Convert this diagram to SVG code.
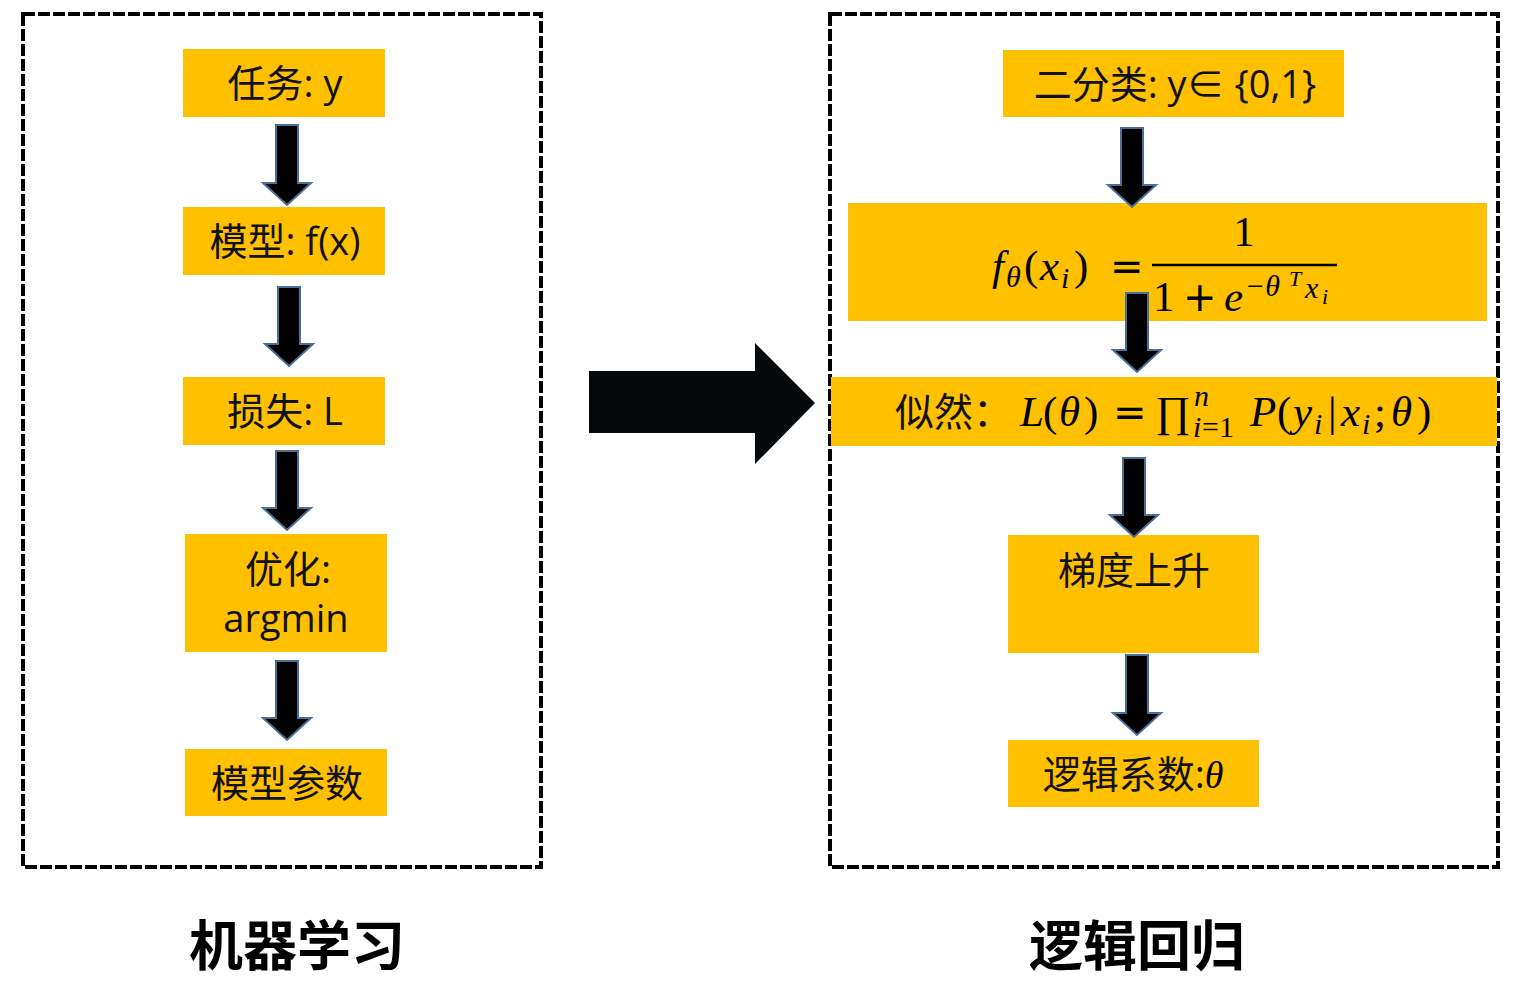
<svg xmlns="http://www.w3.org/2000/svg" width="1515" height="1006" viewBox="0 0 1515 1006">
<style>
.frame{fill:none;stroke:#000;stroke-width:4;stroke-dasharray:12 3}
.box{fill:#FFC000}
.arr{fill:#000;stroke:#4A6F99;stroke-width:2;stroke-linejoin:miter}
.t{font-family:"Open Sans","Noto Sans CJK SC",sans-serif;font-size:38px;fill:#111;text-anchor:middle}
.ts{font-family:"Noto Sans CJK SC",sans-serif;font-size:39px;fill:#111}
.m{font-family:"Liberation Serif","DejaVu Serif",serif;font-style:italic;font-size:43px;fill:#000}
.mu{font-family:"Liberation Serif","DejaVu Serif",serif;font-style:normal;font-size:43px;fill:#000}
.eq{font-family:"DejaVu Sans",sans-serif;font-size:40px;fill:#000}
.s26{font-family:"Liberation Serif",serif;font-style:italic;font-size:30px;fill:#000}
.u26{font-family:"Liberation Serif",serif;font-size:30px;fill:#000}
.s20{font-family:"Liberation Serif",serif;font-style:italic;font-size:22px;fill:#000}
.cap{font-family:"Noto Sans CJK SC",sans-serif;font-weight:bold;font-size:54px;fill:#000;text-anchor:middle}
</style>
<rect width="1515" height="1006" fill="#fff"/>
<g id="frames">
<rect class="frame" x="23" y="14" width="518" height="853"/>
<rect class="frame" x="830" y="14" width="668" height="853"/>
</g>
<g id="n1"><rect class="box" x="183" y="49" width="202" height="68"/><text class="t" x="285" y="97">任务: y</text></g>
<g id="n2"><rect class="box" x="183" y="207" width="202" height="68"/><text class="t" x="285" y="255">模型: f(x)</text></g>
<g id="n3"><rect class="box" x="183" y="377" width="202" height="68"/><text class="t" x="285" y="425">损失: L</text></g>
<g id="n4"><rect class="box" x="185" y="534" width="202" height="118"/><text class="t" x="288" y="583">优化:</text><text class="t" x="286" y="632">argmin</text></g>
<g id="n5"><rect class="box" x="185" y="749" width="202" height="67"/><text class="t" x="287" y="797">模型参数</text></g>
<g id="r1"><rect class="box" x="1003" y="50" width="341" height="67"/><text class="t" x="1175" y="98">二分类: y∈ {0,1}</text></g>
<g id="r2"><rect class="box" x="848" y="203" width="639" height="118"/>
<text class="m" x="992" y="280">f</text>
<text class="s26" x="1006" y="287">θ</text>
<text class="mu" x="1024" y="280">(</text>
<text class="m" x="1040" y="280">x</text>
<text class="s26" x="1061" y="288">i</text>
<text class="mu" x="1074" y="280">)</text>
<text class="eq" x="1110" y="280">=</text>
<line x1="1152" y1="265" x2="1337" y2="265" stroke="#000" stroke-width="2.5"/>
<text class="mu" x="1244" y="246" style="text-anchor:middle">1</text>
<text class="mu" x="1153" y="311">1</text>
<text class="eq" x="1183" y="311">+</text>
<text class="m" x="1224" y="311">e</text>
<text class="s26" x="1245" y="296">−θ</text>
<text class="s20" x="1289" y="286">T</text>
<text class="s26" x="1305" y="298">x</text>
<text class="s20" x="1322" y="304">i</text>
</g>
<g id="r3"><rect class="box" x="831" y="377" width="666" height="69"/>
<text class="ts" x="895" y="426">似然：</text>
<text class="m" x="1020" y="426">L</text>
<text class="mu" x="1043" y="426">(</text>
<text class="m" x="1059" y="426">θ</text>
<text class="mu" x="1084" y="426">)</text>
<text class="eq" x="1113" y="426">=</text>
<text class="mu" x="1155" y="426">∏</text>
<text class="s26" x="1194" y="406">n</text>
<text class="s26" x="1193" y="437">i</text>
<text class="u26" x="1202" y="437">=1</text>
<text class="m" x="1250" y="426">P</text>
<text class="mu" x="1277" y="426">(</text>
<text class="m" x="1293" y="426">y</text>
<text class="s26" x="1314" y="434">i</text>
<text class="mu" x="1328" y="426">|</text>
<text class="m" x="1341" y="426">x</text>
<text class="s26" x="1362" y="434">i</text>
<text class="mu" x="1374" y="426">;</text>
<text class="m" x="1391" y="426">θ</text>
<text class="mu" x="1417" y="426">)</text>
</g>
<g id="r4"><rect class="box" x="1008" y="535" width="251" height="118"/><text class="t" x="1134" y="584">梯度上升</text></g>
<g id="r5"><rect class="box" x="1008" y="740" width="251" height="67"/><text class="t" x="1133" y="788">逻辑系数:<tspan class="m" style="font-size:38px">θ</tspan></text></g>
<g id="connectors">
<path class="arr" d="M276 125H298V183H311L287 205L263 183H276Z"/>
<path class="arr" d="M278 287H300V344H313L289 366L265 344H278Z"/>
<path class="arr" d="M276 451H298V508H311L287 530L263 508H276Z"/>
<path class="arr" d="M276 661H298V718H311L287 740L263 718H276Z"/>
<path class="arr" d="M1121 128H1143V185H1156L1132 207L1108 185H1121Z"/>
<path class="arr" d="M1126 293H1148V350H1161L1137 372L1113 350H1126Z"/>
<path class="arr" d="M1123 458H1145V515H1158L1134 537L1110 515H1123Z"/>
<path class="arr" d="M1126 655H1148V713H1161L1137 735L1113 713H1126Z"/>
<path d="M589 371H755V343L815 403L755 464V433H589Z" fill="#05090B"/>
</g>
<g id="captions">
<text class="cap" x="297" y="966">机器学习</text>
<text class="cap" x="1137" y="966">逻辑回归</text>
</g>
</svg>
